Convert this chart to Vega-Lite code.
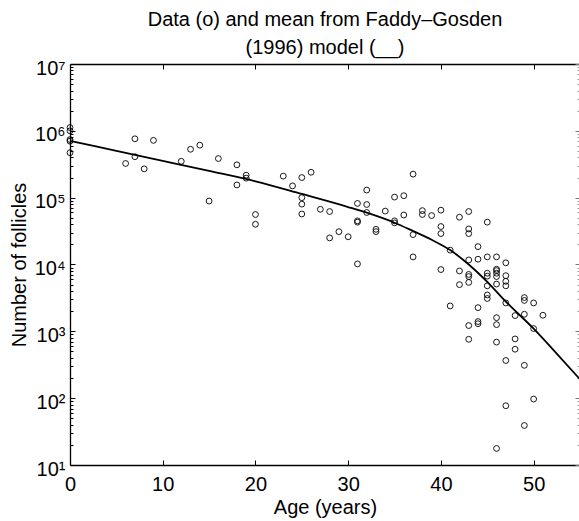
{
  "$schema": "https://vega.github.io/schema/vega-lite/v6.json",
  "width": 510,
  "height": 401,
  "autosize": "none",
  "padding": {"left": 70, "top": 64, "right": 0, "bottom": 56},
  "background": "white",
  "title": {
    "text": ["Data (o) and mean from Faddy–Gosden", "(1996) model (__)"],
    "font": "Liberation Sans",
    "fontSize": 20,
    "fontWeight": "normal",
    "lineHeight": 28,
    "baseline": "bottom",
    "offset": 6,
    "dy": 26,
    "anchor": "middle",
    "frame": "group",
    "color": "black"
  },
  "datasets": {
    "obs": [
      {"age": 0, "n": 1120000}, {"age": 0, "n": 1000000}, {"age": 0, "n": 740000}, {"age": 0, "n": 700000}, {"age": 0, "n": 470000},
      {"age": 6, "n": 325000},
      {"age": 7, "n": 760000}, {"age": 7, "n": 410000},
      {"age": 8, "n": 270000},
      {"age": 9, "n": 720000},
      {"age": 12, "n": 350000},
      {"age": 13, "n": 530000},
      {"age": 14, "n": 610000},
      {"age": 15, "n": 89000},
      {"age": 16, "n": 385000},
      {"age": 18, "n": 310000}, {"age": 18, "n": 155000},
      {"age": 19, "n": 217000}, {"age": 19, "n": 196000},
      {"age": 20, "n": 56000}, {"age": 20, "n": 40000},
      {"age": 23, "n": 210000},
      {"age": 24, "n": 150000},
      {"age": 25, "n": 200000}, {"age": 25, "n": 100000}, {"age": 25, "n": 80000}, {"age": 25, "n": 57000},
      {"age": 26, "n": 240000},
      {"age": 27, "n": 67000},
      {"age": 28, "n": 62000}, {"age": 28, "n": 25000},
      {"age": 29, "n": 31000},
      {"age": 30, "n": 26000},
      {"age": 31, "n": 82000}, {"age": 31, "n": 45000}, {"age": 31, "n": 43000}, {"age": 31, "n": 10200},
      {"age": 32, "n": 130000}, {"age": 32, "n": 79000}, {"age": 32, "n": 60000},
      {"age": 33, "n": 33600}, {"age": 33, "n": 31000},
      {"age": 34, "n": 63000},
      {"age": 35, "n": 102000}, {"age": 35, "n": 45000}, {"age": 35, "n": 42000},
      {"age": 36, "n": 107000}, {"age": 36, "n": 55000},
      {"age": 37, "n": 225000}, {"age": 37, "n": 28000}, {"age": 37, "n": 13000},
      {"age": 38, "n": 64000}, {"age": 38, "n": 56000},
      {"age": 39, "n": 54000},
      {"age": 40, "n": 65000}, {"age": 40, "n": 37000}, {"age": 40, "n": 29000}, {"age": 40, "n": 8400},
      {"age": 41, "n": 16400}, {"age": 41, "n": 2400},
      {"age": 42, "n": 51000}, {"age": 42, "n": 8000}, {"age": 42, "n": 5000},
      {"age": 43, "n": 62000}, {"age": 43, "n": 34000}, {"age": 43, "n": 29000}, {"age": 43, "n": 11700}, {"age": 43, "n": 7100}, {"age": 43, "n": 6600}, {"age": 43, "n": 5400}, {"age": 43, "n": 1220}, {"age": 43, "n": 760},
      {"age": 44, "n": 18500}, {"age": 44, "n": 12000}, {"age": 44, "n": 2260}, {"age": 44, "n": 1400}, {"age": 44, "n": 1300},
      {"age": 45, "n": 43000}, {"age": 45, "n": 13000}, {"age": 45, "n": 7400}, {"age": 45, "n": 6700}, {"age": 45, "n": 4800}, {"age": 45, "n": 3500}, {"age": 45, "n": 3100},
      {"age": 46, "n": 13000}, {"age": 46, "n": 8500}, {"age": 46, "n": 8100}, {"age": 46, "n": 7400}, {"age": 46, "n": 6600}, {"age": 46, "n": 5100}, {"age": 46, "n": 1600}, {"age": 46, "n": 1260}, {"age": 46, "n": 690}, {"age": 46, "n": 17.7},
      {"age": 47, "n": 10600}, {"age": 47, "n": 6800}, {"age": 47, "n": 5600}, {"age": 47, "n": 4800}, {"age": 47, "n": 2660}, {"age": 47, "n": 366}, {"age": 47, "n": 77},
      {"age": 48, "n": 1720}, {"age": 48, "n": 770}, {"age": 48, "n": 540},
      {"age": 49, "n": 3200}, {"age": 49, "n": 2900}, {"age": 49, "n": 1800}, {"age": 49, "n": 310}, {"age": 49, "n": 39},
      {"age": 50, "n": 2660}, {"age": 50, "n": 1100}, {"age": 50, "n": 97},
      {"age": 51, "n": 1740}
    ],
    "model": [
      {"age": 0, "n": 707946}, {"age": 5, "n": 501187}, {"age": 10, "n": 354813}, {"age": 15, "n": 251189},
      {"age": 20, "n": 175792}, {"age": 25, "n": 113501}, {"age": 30, "n": 72444}, {"age": 32, "n": 59566},
      {"age": 35, "n": 42170}, {"age": 37, "n": 31623}, {"age": 39, "n": 23442}, {"age": 41, "n": 16444},
      {"age": 43, "n": 10000}, {"age": 45, "n": 5495}, {"age": 47, "n": 2786}, {"age": 50, "n": 1096},
      {"age": 52, "n": 550}, {"age": 55, "n": 191}
    ],
    "empty": []
  },
  "config": {
    "view": {"stroke": null},
    "axis": {
      "grid": false,
      "domainColor": "black",
      "domainWidth": 1.3,
      "tickColor": "black",
      "tickWidth": 1,
      "labelFont": "Liberation Sans",
      "labelFontSize": 20,
      "labelColor": "black",
      "titleFont": "Liberation Sans",
      "titleFontSize": 20,
      "titleFontWeight": "normal",
      "titleColor": "black",
      "labelFlush": false,
      "labelOverlap": false
    }
  },
  "resolve": {"axis": {"x": "independent", "y": "independent"}},
  "layer": [
    {
      "data": {"name": "obs"},
      "mark": {"type": "point", "shape": "circle", "filled": false, "size": 34, "strokeWidth": 0.9, "color": "black", "opacity": 1},
      "encoding": {
        "x": {
          "field": "age", "type": "quantitative",
          "scale": {"domain": [0, 55], "nice": false, "zero": false},
          "axis": {"orient": "bottom", "values": [0, 10, 20, 30, 40, 50], "tickSize": -5, "labelPadding": 14,
                   "title": "Age (years)", "titleX": 255, "titleY": 48.5, "titleBaseline": "alphabetic", "titleAlign": "center"}
        },
        "y": {
          "field": "n", "type": "quantitative",
          "scale": {"type": "log", "domain": [10, 10000000], "nice": false},
          "axis": {"orient": "left", "values": [10, 100, 1000, 10000, 100000, 1000000, 10000000], "tickSize": -5, "labelPadding": 10,
                   "labelOffset": 4,
                   "labelExpr": "'10' + ['⁰','¹','²','³','⁴','⁵','⁶','⁷'][round(log(datum.value)/LN10)]",
                   "title": "Number of follicles", "titleX": -45, "titleY": 200.5, "titleBaseline": "alphabetic", "titleAlign": "center", "titleAngle": -90}
        }
      }
    },
    {
      "data": {"name": "model"},
      "mark": {"type": "line", "color": "black", "strokeWidth": 1.8, "interpolate": "monotone"},
      "encoding": {
        "x": {
          "field": "age", "type": "quantitative",
          "scale": {"domain": [0, 55], "nice": false, "zero": false},
          "axis": {"orient": "top", "values": [10, 20, 30, 40, 50], "tickSize": -5, "labels": false, "title": null}
        },
        "y": {
          "field": "n", "type": "quantitative",
          "scale": {"type": "log", "domain": [10, 10000000], "nice": false},
          "axis": {"orient": "right", "values": [10, 100, 1000, 10000, 100000, 1000000, 10000000], "tickSize": -5, "labels": false, "title": null, "tickColor": "#777777"}
        }
      }
    },
    {
      "data": {"name": "empty"},
      "mark": {"type": "point"},
      "encoding": {
        "y": {
          "field": "n", "type": "quantitative",
          "scale": {"type": "log", "domain": [10, 10000000], "nice": false},
          "axis": {"orient": "left", "domain": false, "labels": false, "title": null, "tickSize": -3,
                   "values": [20,30,40,50,60,70,80,90,200,300,400,500,600,700,800,900,2000,3000,4000,5000,6000,7000,8000,9000,20000,30000,40000,50000,60000,70000,80000,90000,200000,300000,400000,500000,600000,700000,800000,900000,2000000,3000000,4000000,5000000,6000000,7000000,8000000,9000000]}
        }
      }
    },
    {
      "data": {"name": "empty"},
      "mark": {"type": "point"},
      "encoding": {
        "y": {
          "field": "n", "type": "quantitative",
          "scale": {"type": "log", "domain": [10, 10000000], "nice": false},
          "axis": {"orient": "right", "domain": false, "labels": false, "title": null, "tickSize": -3, "tickColor": "#999999",
                   "values": [20,30,40,50,60,70,80,90,200,300,400,500,600,700,800,900,2000,3000,4000,5000,6000,7000,8000,9000,20000,30000,40000,50000,60000,70000,80000,90000,200000,300000,400000,500000,600000,700000,800000,900000,2000000,3000000,4000000,5000000,6000000,7000000,8000000,9000000]}
        }
      }
    }
  ]
}
